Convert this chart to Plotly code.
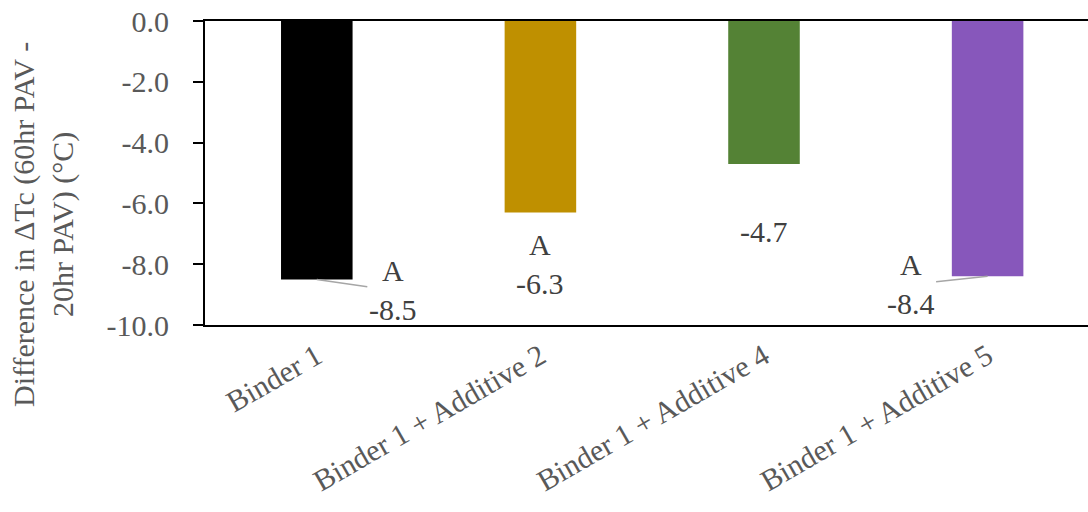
import plotly.graph_objects as go

categories = ["Binder 1", "Binder 1 + Additive 2", "Binder 1 + Additive 4", "Binder 1 + Additive 5"]
values = [-8.5, -6.3, -4.7, -8.4]
letters = ["A", "A", "", "A"]
bar_colors = ["#000000", "#BF9000", "#548235", "#8757BB"]
ytick_vals = [0, -2, -4, -6, -8, -10]
ytick_text = ["0.0", "-2.0", "-4.0", "-6.0", "-8.0", "-10.0"]

FONT = "Liberation Serif, Times New Roman, serif"
FS = 30

fig = go.Figure()
fig.add_trace(go.Bar(
    x=categories, y=values, marker=dict(color=bar_colors, line=dict(width=0)),
    width=0.32, showlegend=False,
))

# label placement offsets (pixels) and leader flags
label_offsets = [(76, 11, True), (0, 51, False), (0, 68, False), (-77, 8, True)]
for cat, v, let, (dx, dy, leader) in zip(categories, values, letters, label_offsets):
    txt = f"{let}<br>{v:.1f}" if let else f"{v:.1f}"
    if leader:
        fig.add_annotation(
            x=cat, y=v, text=txt, showarrow=True, arrowhead=0, arrowwidth=1.5,
            arrowcolor="#A6A6A6", ax=dx, ay=dy, standoff=0,
            font=dict(family=FONT, size=FS, color="#404040"), align="center",
        )
    else:
        fig.add_annotation(
            x=cat, y=v, text=txt, showarrow=False, yshift=-dy, xshift=dx,
            font=dict(family=FONT, size=FS, color="#404040"), align="center",
            yanchor="middle", xanchor="center",
        )

fig.add_annotation(
    xref="paper", yref="paper", x=-0.1823, y=0.329,
    text="Difference in ΔTc (60hr PAV -<br>20hr PAV) (°C)", textangle=-90,
    showarrow=False, xanchor="center", yanchor="middle", align="center",
    font=dict(family=FONT, size=FS, color="#595959"),
)

fig.update_layout(
    width=1088, height=512,
    margin=dict(l=205, r=0, t=21, b=187),
    paper_bgcolor="white", plot_bgcolor="white",
    font=dict(family=FONT, size=FS, color="#595959"),
    hovermode=False,
    xaxis=dict(
        range=[-0.5, 3.449], showline=True, linecolor="#000000", linewidth=2,
        mirror=True, ticks="", showgrid=False, tickangle=-30, automargin=False,
        tickfont=dict(family=FONT, size=FS, color="#595959"),
        ticklabeloverflow="allow",
    ),
    yaxis=dict(
        range=[-10, 0], tickvals=ytick_vals, ticktext=ytick_text,
        showline=True, linecolor="#000000", linewidth=2, mirror=False,
        ticks="outside", ticklen=10, tickwidth=2, tickcolor="#000000",
        showgrid=False, zeroline=False, automargin=False, ticklabelstandoff=18,
        tickfont=dict(family=FONT, size=FS, color="#595959"),
        ticklabeloverflow="allow",
    ),
    bargap=0.68,
)

fig.write_html(
    "out.html",
    config={"displayModeBar": False},
    post_script="document.body.style.margin='0';",
)
